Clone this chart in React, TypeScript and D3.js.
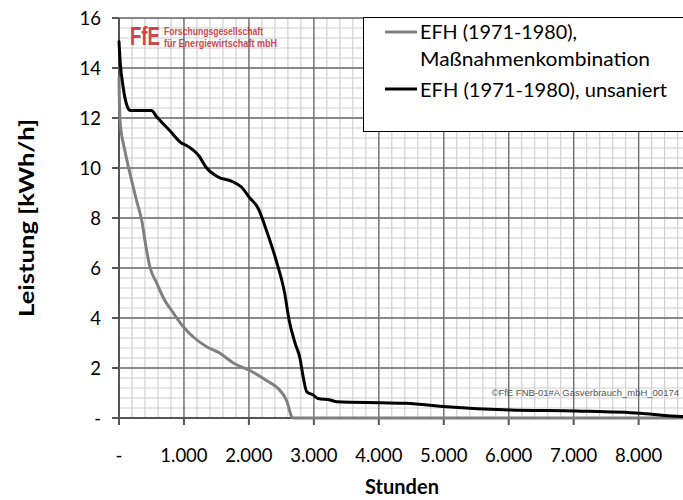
import React from "react";
import * as d3 from "d3";

// ---- data ----
const hoursUnsaniert = [0, 20, 60, 137, 170, 500, 580, 780, 960, 1040, 1240, 1340, 1520, 1750, 1880, 2015, 2140, 2270, 2420, 2550, 2620, 2710, 2785, 2835, 2890, 2990, 3065, 3250, 3350, 4020, 4420, 5040, 6020, 7040, 8020, 8500, 8760];
const valuesUnsaniert = [15.05, 14.2, 13.3, 12.4, 12.3, 12.3, 12.05, 11.5, 11.0, 10.9, 10.45, 10.03, 9.65, 9.45, 9.25, 8.8, 8.4, 7.5, 6.3, 5.0, 3.9, 3.0, 2.4, 1.65, 1.05, 0.92, 0.78, 0.72, 0.65, 0.61, 0.59, 0.45, 0.32, 0.28, 0.19, 0.08, 0.05];
const hoursMassnahmen = [0, 15, 90, 140, 195, 270, 350, 425, 475, 580, 705, 810, 990, 1140, 1350, 1550, 1760, 2015, 2270, 2480, 2580, 2660, 2680, 8760];
const valuesMassnahmen = [13.6, 11.9, 10.7, 10.1, 9.5, 8.7, 7.9, 6.7, 6.05, 5.4, 4.7, 4.3, 3.65, 3.25, 2.85, 2.6, 2.2, 1.9, 1.5, 1.1, 0.7, 0.05, 0, 0];
const xTicks = [0, 1000, 2000, 3000, 4000, 5000, 6000, 7000, 8000];
const xTickLabels = ["-", "1.000", "2.000", "3.000", "4.000", "5.000", "6.000", "7.000", "8.000"];
const yTicks = [0, 2, 4, 6, 8, 10, 12, 14, 16];
const yTickLabels = ["-", "2", "4", "6", "8", "10", "12", "14", "16"];
const seriesNames = ["EFH (1971-1980),", "Maßnahmenkombination", "EFH (1971-1980), unsaniert"];

const W = 683, H = 500;
const left = 119, right = 688, top = 18, bottom = 418;

export default function App() {
  const x = d3.scaleLinear().domain([0, 8760]).range([left, right]);
  const y = d3.scaleLinear().domain([0, 16]).range([bottom, top]);
  const minorX = d3.range(0, 8761, 200);
  const minorY = d3.range(0, 16.01, 0.4);
  const line = d3.line<[number, number]>().x(d => x(d[0])).y(d => y(d[1])).curve(d3.curveMonotoneX);
  const blackPts = hoursUnsaniert.map((h, i) => [h, valuesUnsaniert[i]] as [number, number]);
  const grayPts = hoursMassnahmen.map((h, i) => [h, valuesMassnahmen[i]] as [number, number]);
  const font = "Lato, 'Open Sans', sans-serif";
  const narrow = "'Liberation Sans Narrow', 'Liberation Sans', sans-serif";

  return (
    <svg width={W} height={H} style={{ position: "absolute", left: 0, top: 0, background: "#fff" }}>
      <defs>
        <clipPath id="plot"><rect x={left - 2} y={top - 2} width={right - left + 4} height={bottom - top + 4} /></clipPath>
      </defs>
      {/* minor grid */}
      <g stroke="#d0d0d0" strokeWidth={1.2}>
        {minorX.map(v => <line key={"mx" + v} x1={x(v)} x2={x(v)} y1={top} y2={bottom} />)}
        {minorY.map(v => <line key={"my" + v} x1={left} x2={right} y1={y(v)} y2={y(v)} />)}
      </g>
      {/* major grid */}
      <g stroke="#6b6b6b" strokeWidth={1.3}>
        {xTicks.map(v => <line key={"Mx" + v} x1={x(v)} x2={x(v)} y1={top} y2={bottom} />)}
        {yTicks.map(v => <line key={"My" + v} x1={left} x2={right} y1={y(v)} y2={y(v)} />)}
      </g>
      {/* logo */}
      <g opacity={0.85}>
        <text x={130} y={45} fill="#c8282d" fontFamily={narrow} fontWeight="bold" fontSize={26} textLength={30} lengthAdjust="spacingAndGlyphs">FfE</text>
        <text x={164} y={35} fill="#c8282d" fontFamily={narrow} fontWeight="bold" fontSize={10.5} textLength={99} lengthAdjust="spacingAndGlyphs">Forschungsgesellschaft</text>
        <text x={164} y={47} fill="#c8282d" fontFamily={narrow} fontWeight="bold" fontSize={10.5} textLength={113} lengthAdjust="spacingAndGlyphs">für Energiewirtschaft mbH</text>
      </g>
      {/* watermark */}
      <text x={679} y={396} textAnchor="end" fill="#555" fontFamily="'Liberation Sans', Arial, sans-serif" fontSize={9.5}>©FfE FNB-01#A Gasverbrauch_mbH_00174</text>
      {/* axes */}
      <line x1={left} x2={left} y1={top} y2={bottom} stroke="#555" strokeWidth={2} />
      <line x1={left} x2={right} y1={bottom} y2={bottom} stroke="#555" strokeWidth={2} />
      <g stroke="#555" strokeWidth={2}>
        {yTicks.map(v => <line key={"ty" + v} x1={left - 7} x2={left} y1={y(v)} y2={y(v)} />)}
        {xTicks.map(v => <line key={"tx" + v} x1={x(v)} x2={x(v)} y1={bottom} y2={bottom + 7} />)}
      </g>
      {/* series */}
      <g clipPath="url(#plot)" fill="none" strokeLinejoin="round" strokeLinecap="round">
        <path d={line(grayPts) || ""} stroke="#808080" strokeWidth={3} />
        <path d={line(blackPts) || ""} stroke="#000" strokeWidth={3} />
      </g>
      {/* tick labels */}
      <g fontFamily={font} fontSize={18.5} fill="#000">
        {yTicks.map((v, i) => <text key={"ly" + v} x={101} y={y(v) + 6.5} textAnchor="end">{yTickLabels[i]}</text>)}
        {xTicks.map((v, i) => <text key={"lx" + v} x={x(v)} y={462} textAnchor="middle">{xTickLabels[i]}</text>)}
      </g>
      {/* axis titles */}
      <text x={402} y={494} textAnchor="middle" fontFamily={font} fontWeight="bold" fontSize={20}>Stunden</text>
      <text transform={`translate(34,${(top + bottom) / 2}) rotate(-90)`} textAnchor="middle" fontFamily={font} fontWeight="bold" fontSize={21} textLength={198} lengthAdjust="spacingAndGlyphs">Leistung [kWh/h]</text>
      {/* legend */}
      <rect x={363.5} y={17.5} width={330} height={114} fill="#fff" stroke="#000" strokeWidth={1} />
      <line x1={385} x2={417} y1={32} y2={32} stroke="#808080" strokeWidth={3} />
      <line x1={385} x2={417} y1={89} y2={89} stroke="#000" strokeWidth={3} />
      <g fontFamily={font} fontSize={19} fill="#000">
        <text x={420} y={38.5} textLength={157} lengthAdjust="spacingAndGlyphs">{seriesNames[0]}</text>
        <text x={420} y={66} textLength={230} lengthAdjust="spacingAndGlyphs">{seriesNames[1]}</text>
        <text x={420} y={96.5} textLength={247} lengthAdjust="spacingAndGlyphs">{seriesNames[2]}</text>
      </g>
    </svg>
  );
}
